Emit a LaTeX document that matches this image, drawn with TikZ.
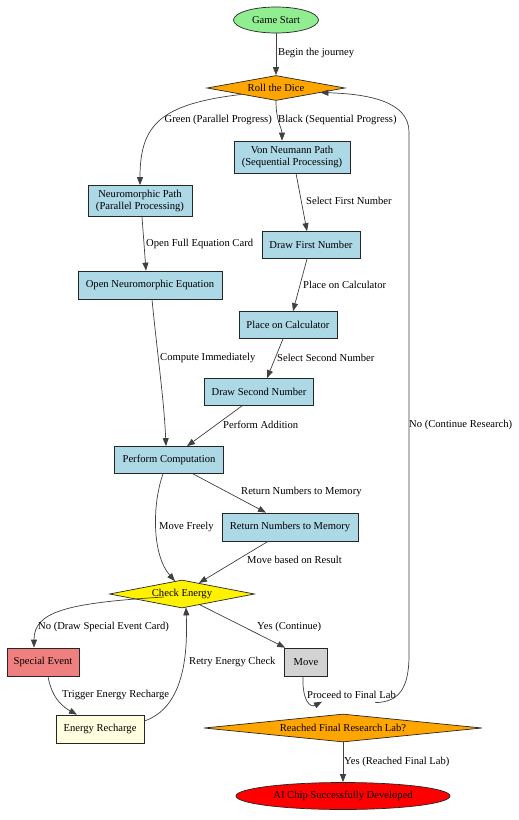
\documentclass[tikz,border=0pt]{standalone}
\usepackage{fontspec}
\setmainfont{Liberation Serif}
\usetikzlibrary{shapes.geometric,arrows.meta,calc}
\definecolor{lgreen}{HTML}{90EE90}
\definecolor{lorange}{HTML}{FFA500}
\definecolor{lblue}{HTML}{ADD8E6}
\definecolor{lcoral}{HTML}{F08080}
\definecolor{lgray}{HTML}{D3D3D3}
\definecolor{lyellow}{HTML}{FFFFE0}
\definecolor{edgec}{HTML}{404040}
\begin{document}
\begin{tikzpicture}[x=1pt,y=-1pt,
  every node/.style={font=\fontsize{10.6pt}{12pt}\selectfont},
  base/.style={draw=black!85, line width=0.7pt, inner sep=0pt, align=center},
  proc/.style={base, rectangle, fill=lblue},
  term/.style={base, ellipse},
  dec/.style={base, diamond},
  lbl/.style={inner sep=0pt, anchor=west},
  conn/.style={draw=edgec, line width=0.7pt, -{Triangle[length=8pt,width=6pt]}}
]
\useasboundingbox (0,0) rectangle (519,820);
\fill[white] (0,0) rectangle (519,820);

% nodes
\node[term, fill=lgreen, minimum width=85pt, minimum height=26pt] (start) at (276,20) {Game Start};
\node[dec, fill=lorange, minimum width=138pt, minimum height=25pt, shape aspect=5.5] (dice) at (276,88) {Roll the Dice};
\node[proc, minimum width=116pt, minimum height=32pt] (vn) at (292,157) {Von Neumann Path\\(Sequential Processing)};
\node[proc, minimum width=104pt, minimum height=31pt] (neuro) at (140,201) {Neuromorphic Path\\(Parallel Processing)};
\node[proc, minimum width=98pt, minimum height=27pt] (df) at (311,245) {Draw First Number};
\node[proc, minimum width=144pt, minimum height=28pt] (oe) at (150,285) {Open Neuromorphic Equation};
\node[proc, minimum width=98pt, minimum height=27pt] (pc) at (288,325) {Place on Calculator};
\node[proc, minimum width=109pt, minimum height=27pt] (ds) at (259,392) {Draw Second Number};
\node[proc, minimum width=109pt, minimum height=27pt] (perf) at (169,460) {Perform Computation};
\node[proc, minimum width=136pt, minimum height=28pt] (rn) at (290,527) {Return Numbers to Memory};
\node[dec, fill=yellow, minimum width=145pt, minimum height=28pt, shape aspect=5.2] (ce) at (182,594) {Check Energy};
\node[base, rectangle, fill=lcoral, minimum width=72pt, minimum height=28pt] (se) at (43,662) {Special Event};
\node[base, rectangle, fill=lgray, minimum width=43pt, minimum height=28pt] (move) at (306,662) {Move};
\node[base, rectangle, fill=lyellow, minimum width=88pt, minimum height=28pt] (er) at (100,729) {Energy Recharge};
\node[dec, fill=lorange, minimum width=278pt, minimum height=28pt, shape aspect=9.9] (reached) at (343,728) {Reached Final Research Lab?};
\node[term, fill=red, minimum width=214pt, minimum height=27pt] (ai) at (343,796) {AI Chip Successfully Developed};

% connectors
\draw[conn] (start) -- (dice);
\draw[conn] (dice.south west) .. controls (160,104) and (140,125) .. (neuro.north);
\draw[conn] (dice.south) .. controls (276,122) and (282,128) .. ($(vn.north)+(-10,0)$);
\draw[conn] ($(reached.north)+(32,-11)$) .. controls (398,702) and (409,690) .. (409,655)
   -- (409,132) .. controls (409,102) and (370,94) .. ($(dice.east)+(-25,4.5)$);
\draw[conn] ($(vn.south)+(4,0)$) -- ($(df.north)+(-4,0)$);
\draw[conn] ($(neuro.south)+(2,0)$) -- ($(oe.north)+(-4,0)$);
\draw[conn] ($(df.south)+(-4,0)$) -- ($(pc.north)+(5,0)$);
\draw[conn] ($(oe.south)+(2,0)$) .. controls (158,360) and (164,400) .. ($(perf.north)+(-3,0)$);
\draw[conn] ($(pc.south)+(-5,0)$) -- ($(ds.north)+(8,0)$);
\draw[conn] ($(ds.south)+(-17,0)$) -- ($(perf.north)+(18,0)$);
\draw[conn] ($(perf.south)+(24,0)$) -- ($(rn.north)+(-24,0)$);
\draw[conn] ($(perf.south)+(-6,0)$) .. controls (152,505) and (152,555) .. ($(ce.north)+(-7,1.5)$);
\draw[conn] ($(rn.south)+(-22,0)$) -- ($(ce.north)+(17,3.3)$);
\draw[conn] ($(ce.west)+(55,3)$) .. controls (65,603) and (34,612) .. ($(se.north)+(-9,0)$);
\draw[conn] ($(ce.south)+(18,-3.5)$) -- ($(move.north west)+(1,0)$);
\draw[conn] ($(er.east)+(0,-8)$) .. controls (182,708) and (188,660) .. ($(ce.south)+(4,-1)$);
\draw[conn] ($(se.south)+(5,0)$) .. controls (52,700) and (65,708) .. ($(er.north)+(-23,0)$);
\draw[conn] ($(move.south)+(-3,0)$) .. controls (302,700) and (310,708) .. ($(reached.north)+(-21,-12)$);
\draw[conn] (reached) -- (ai);

% labels
\node[lbl] (l1) at (278,53) {Begin the journey};
\node[lbl, anchor=east] (l2) at (272,120) {Green (Parallel Progress)};
\node[lbl] (l3) at (278,120) {Black (Sequential Progress)};
\node[lbl] (l4) at (306,201) {Select First Number};
\node[lbl] (l5) at (146,244) {Open Full Equation Card};
\node[lbl] (l6) at (303,285) {Place on Calculator};
\node[lbl] (l7) at (160,358) {Compute Immediately};
\node[lbl] (l8) at (277,358) {Select Second Number};
\node[lbl] (l9) at (223,425) {Perform Addition};
\node[lbl] (l10) at (409,425) {No (Continue Research)};
\node[lbl] (l11) at (241,492) {Return Numbers to Memory};
\node[lbl] (l12) at (159,527) {Move Freely};
\node[lbl] (l13) at (247,560) {Move based on Result};
\node[lbl] (l14) at (38,627) {No (Draw Special Event Card)};
\node[lbl] (l15) at (257,627) {Yes (Continue)};
\node[lbl] (l16) at (189,662) {Retry Energy Check};
\node[lbl] (l17) at (62,695) {Trigger Energy Recharge};
\node[lbl] (l18) at (307,695) {Proceed to Final Lab};
\node[lbl] (l19) at (344,762) {Yes (Reached Final Lab)};
\end{tikzpicture}
\end{document}
